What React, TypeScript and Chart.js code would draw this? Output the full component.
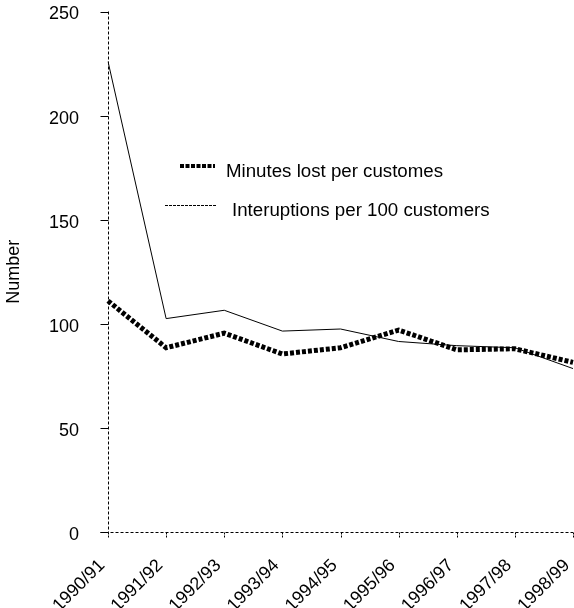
import React, { useEffect, useRef } from "react";
import { Chart, registerables } from "chart.js";

Chart.register(...registerables);

const categories = ["1990/91", "1991/92", "1992/93", "1993/94", "1994/95", "1995/96", "1996/97", "1997/98", "1998/99"];
const minutesLost = [111, 88.5, 95.5, 85.5, 88.5, 97, 87.5, 88, 81.5];
const interruptions = [226, 102.5, 106.5, 96.5, 97.5, 91.5, 89.5, 88.5, 78.5];
const yTicks = [0, 50, 100, 150, 200, 250];
const seriesLabels = ["Minutes lost per customes", "Interuptions per 100 customers"];
const yTitle = "Number";

const FONT = "'Liberation Sans', Arial, sans-serif";

const axesPlugin = {
  id: "dashedAxes",
  beforeDatasetsDraw(chart: any) {
    const ctx = chart.ctx;
    const { left, right, top, bottom } = chart.chartArea;
    const xs = chart.scales.x;
    const ys = chart.scales.y;
    ctx.save();
    ctx.strokeStyle = "#000";
    ctx.lineWidth = 1;
    ctx.setLineDash([3, 2]);
    const bx = Math.round(left) + 0.5;
    const by = Math.round(bottom) + 0.5;
    ctx.beginPath();
    ctx.moveTo(bx, top);
    ctx.lineTo(bx, by);
    ctx.stroke();
    ctx.beginPath();
    ctx.moveTo(bx - 8, by);
    ctx.lineTo(right, by);
    ctx.stroke();
    ctx.setLineDash([]);
    ys.ticks.forEach((t: any) => {
      const py = Math.round(ys.getPixelForValue(t.value)) + 0.5;
      ctx.beginPath();
      ctx.moveTo(bx - 8, py);
      ctx.lineTo(bx, py);
      ctx.stroke();
    });
    ctx.setLineDash([2, 1]);
    xs.ticks.forEach((_t: any, i: number) => {
      const px = Math.round(xs.getPixelForTick(i)) + 0.5;
      ctx.beginPath();
      ctx.moveTo(px, by);
      ctx.lineTo(px, by + 6);
      ctx.stroke();
    });
    ctx.restore();
  },
};

const legendPlugin = {
  id: "insideLegend",
  afterDraw(chart: any) {
    const ctx = chart.ctx;
    const ds = chart.data.datasets;
    ctx.save();
    ctx.fillStyle = "#000";
    ctx.strokeStyle = "#000";
    ctx.font = `18.7px ${FONT}`;
    ctx.textBaseline = "middle";
    ctx.lineWidth = 4;
    ctx.setLineDash([4, 1.5]);
    ctx.beginPath();
    ctx.moveTo(180, 166);
    ctx.lineTo(215, 166);
    ctx.stroke();
    ctx.fillText(ds[0].label, 226, 172);
    ctx.lineWidth = 1;
    ctx.setLineDash([3, 1]);
    ctx.beginPath();
    ctx.moveTo(165, 205.5);
    ctx.lineTo(216, 205.5);
    ctx.stroke();
    ctx.setLineDash([]);
    ctx.fillText(ds[1].label, 232, 211);
    ctx.restore();
  },
};

export default function App() {
  const ref = useRef<HTMLCanvasElement>(null);
  useEffect(() => {
    if (!ref.current) return;
    const chart = new Chart(ref.current, {
      type: "line",
      data: {
        labels: categories,
        datasets: [
          {
            label: seriesLabels[0],
            data: minutesLost,
            borderColor: "#000",
            borderWidth: 5,
            borderDash: [4, 2],
            borderCapStyle: "butt",
            pointRadius: 0,
            tension: 0,
          },
          {
            label: seriesLabels[1],
            data: interruptions,
            borderColor: "#000",
            borderWidth: 1,
            pointRadius: 0,
            tension: 0,
          },
        ],
      },
      options: {
        animation: false,
        responsive: true,
        maintainAspectRatio: false,
        layout: { padding: { top: 11.5, right: 1, left: 0, bottom: 0 } },
        plugins: { legend: { display: false }, tooltip: { enabled: false } },
        scales: {
          x: {
            offset: false,
            border: { display: false },
            grid: { display: false },
            ticks: {
              color: "#000",
              font: { family: FONT, size: 18 },
              maxRotation: 45,
              minRotation: 45,
              padding: 15,
              labelOffset: -6,
              autoSkip: false,
            },
            afterFit(scale: any) {
              scale.height = 76;
              scale.paddingLeft = 0;
              scale.paddingRight = 0;
            },
          },
          y: {
            min: 0,
            max: 250,
            border: { display: false },
            grid: { display: false },
            afterBuildTicks(scale: any) {
              scale.ticks = yTicks.map((v) => ({ value: v }));
            },
            ticks: {
              color: "#000",
              font: { family: FONT, size: 18 },
              padding: 21,
              labelOffset: 3,
            },
            title: {
              display: true,
              text: yTitle,
              color: "#000",
              font: { family: FONT, size: 18 },
              padding: { top: 3, bottom: 0 },
            },
            afterFit(scale: any) {
              scale.width = 108;
              scale.paddingTop = 0;
              scale.paddingBottom = 0;
            },
          },
        },
      },
      plugins: [axesPlugin, legendPlugin],
    });
    return () => chart.destroy();
  }, []);
  return (
    <div style={{ position: "absolute", left: 0, top: 0, width: 574, height: 608, background: "#fff" }}>
      <canvas ref={ref} />
    </div>
  );
}
